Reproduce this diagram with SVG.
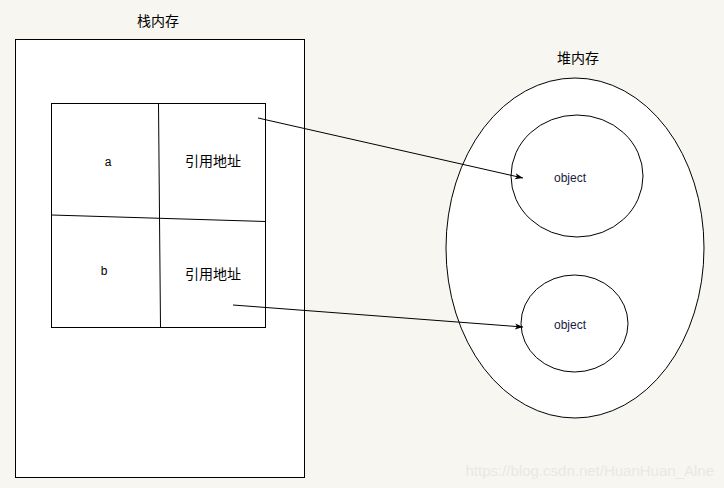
<svg xmlns="http://www.w3.org/2000/svg" width="724" height="488" viewBox="0 0 724 488">
<defs>
<style>
.s{fill:#fff;stroke:#000;stroke-width:1}
.l{fill:none;stroke:#000;stroke-width:1}
.t{font-family:"Liberation Sans","Noto Sans CJK SC",sans-serif;fill:#000;text-anchor:middle}
.c{font-size:14px}
.o{font-size:12px;fill:#1a1a40}
</style>
<marker id="ah" markerWidth="10" markerHeight="8" refX="9" refY="4" orient="auto" markerUnits="userSpaceOnUse">
<path d="M1,1 L9,4 L1,7 L3,4 Z" fill="#000"/>
</marker>
</defs>
<rect width="724" height="488" fill="#f8f6f0"/>
<g id="stack">
<rect class="s" x="15.5" y="39.5" width="289" height="438"/>
<text class="t c" x="158" y="26">栈内存</text>
</g>
<g id="table">
<rect class="s" x="51.5" y="103.5" width="214" height="224"/>
<path class="l" d="M51.5,215 L265.5,221.5 M158.5,103.5 L160.5,327.5"/>
</g>
<g id="cell-a"><text class="t" x="108" y="166" font-size="12">a</text></g>
<g id="cell-a-ref"><text class="t c" x="213" y="166">引用地址</text></g>
<g id="cell-b"><text class="t" x="104" y="275" font-size="12" fill="#1a3a80">b</text></g>
<g id="cell-b-ref"><text class="t c" x="213" y="279">引用地址</text></g>
<g id="heap">
<ellipse class="s" cx="575" cy="248" rx="129" ry="170"/>
<text class="t c" x="578" y="63">堆内存</text>
</g>
<g id="object1">
<ellipse class="s" cx="577" cy="176" rx="66" ry="61"/>
<text class="t o" x="570" y="182">object</text>
</g>
<g id="object2">
<ellipse class="s" cx="574.5" cy="323.5" rx="53.5" ry="48.5"/>
<text class="t o" x="570" y="329">object</text>
</g>
<g id="connectors">
<path class="l" d="M258,118 L523,178" marker-end="url(#ah)"/>
<path class="l" d="M233,305 L523,327" marker-end="url(#ah)"/>
</g>
<text x="714" y="476" font-family="Liberation Sans,sans-serif" font-size="15" fill="#e8e8e8" text-anchor="end">https://blog.csdn.net/HuanHuan_Alne</text>
</svg>
